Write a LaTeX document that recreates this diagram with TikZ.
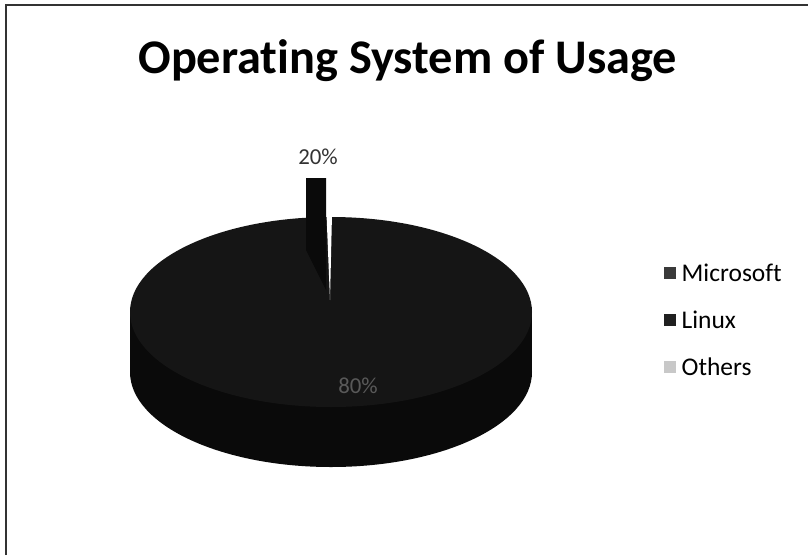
\documentclass[tikz,border=0pt]{standalone}
\usepackage{fontspec}
\setmainfont{Carlito}[Ligatures=NoCommon]
\usepackage{tikz}
\usetikzlibrary{positioning, calc}
\definecolor{pie-top}{HTML}{151515}
\definecolor{pie-side}{HTML}{0A0A0A}
\definecolor{ms-grey}{HTML}{3A3A3A}
\definecolor{linux-grey}{HTML}{202020}
\definecolor{other-grey}{HTML}{C8C8C8}

\begin{document}
\begin{tikzpicture}[
    x=0.02cm, y=-0.02cm,
    title/.style={font=\fontsize{27.5}{32}\selectfont\bfseries, inner sep=0pt},
    pct/.style={font=\fontsize{13}{15}\selectfont, inner sep=0pt},
    legendkey/.style={minimum size=12*0.02cm, inner sep=0pt},
    legendtext/.style={font=\fontsize{14.5}{17}\selectfont, anchor=west, inner sep=0pt}
]
    \useasboundingbox (0,0) rectangle (808,555);
    \fill[white] (0,0) rectangle (808,555);

    % chart frame (only top and left edges show)
    \draw[line width=0.6pt, black!80] (6,555) -- (6,5) -- (808,5);

    \node (title) [title, anchor=base west] at (138,73) {Operating System of Usage};

    % pie: side wall first, then top face
    \fill[pie-side] (331,372) ellipse [x radius=201, y radius=95];
    \fill[pie-side] (130,312) rectangle (532,372);
    \fill[pie-top] (331,312) ellipse [x radius=201, y radius=95];

    % pulled-out slice and its gap
    \fill[white] (326.5,214) -- (332,214) -- (330,300) -- cycle;
    \fill[pie-side] (306,178) -- (326,178) -- (326,290) -- (306,250) -- cycle;

    \node (pctSmall) [pct, black!80] at (318,157) {20\%};
    \node (pctBig) [pct, black!65] at (358,386) {80\%};

    % legend
    \node (msKey) [legendkey, fill=ms-grey] at (670,273) {};
    \node (msLabel) [legendtext, right=5*0.02cm of msKey] {Microsoft};
    \node (linuxKey) [legendkey, fill=linux-grey] at (670,320) {};
    \node (linuxLabel) [legendtext, right=5*0.02cm of linuxKey] {Linux};
    \node (otherKey) [legendkey, fill=other-grey] at (670,367) {};
    \node (otherLabel) [legendtext, right=5*0.02cm of otherKey] {Others};
\end{tikzpicture}
\end{document}
